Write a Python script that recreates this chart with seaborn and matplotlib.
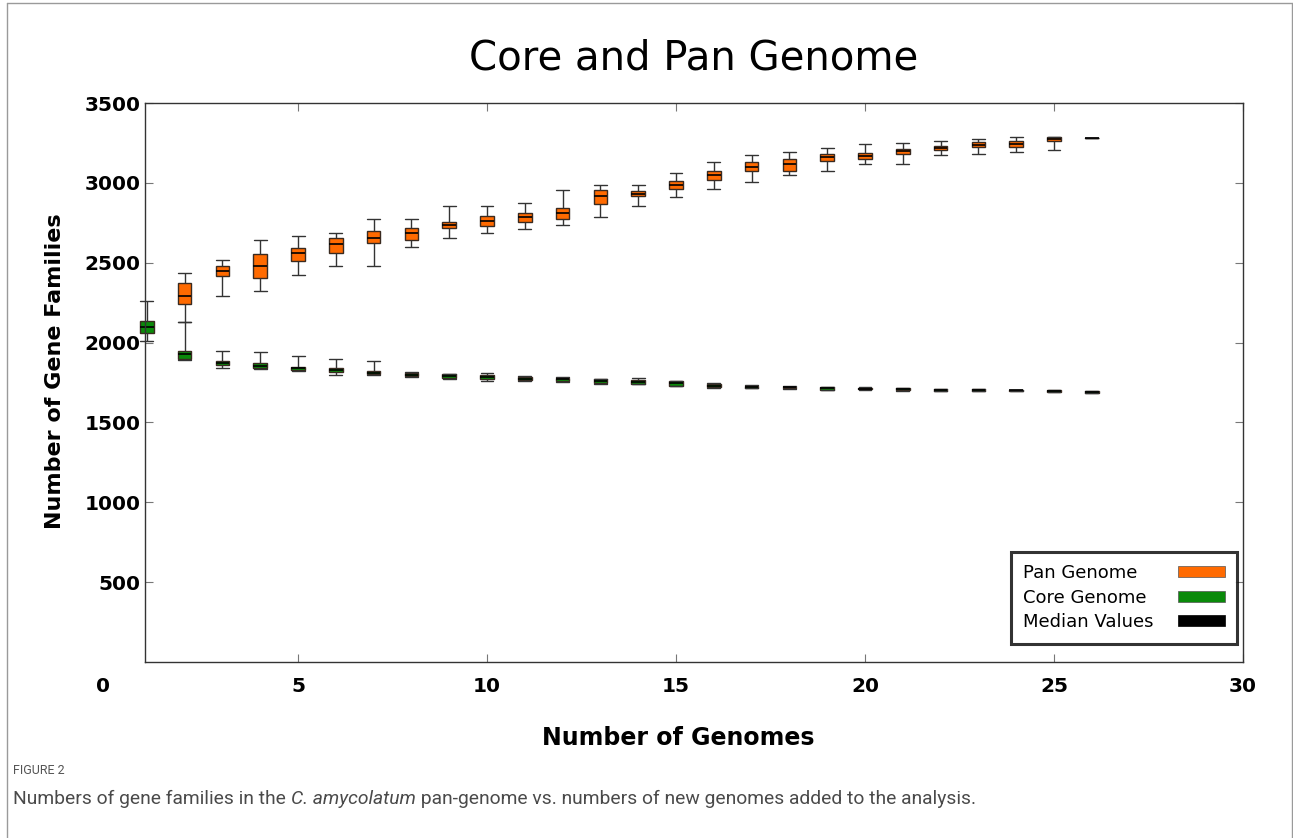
import numpy as np
import pandas as pd
import seaborn as sns
import matplotlib.pyplot as plt
from matplotlib.patches import Patch
from matplotlib.lines import Line2D

# ---------------- data (five-number summaries) ----------------
pan_genomes = list(range(2, 27))
pan_low = [2127, 2291, 2325, 2423, 2479, 2479, 2598, 2655, 2688, 2709, 2738, 2786, 2853,
           2909, 2961, 3005, 3051, 3072, 3118, 3116, 3172, 3181, 3193, 3204, 3283]
pan_q1 = [2243, 2419, 2404, 2511, 2563, 2621, 2642, 2717, 2730, 2757, 2774, 2867, 2918,
          2963, 3018, 3072, 3076, 3137, 3149, 3182, 3204, 3222, 3222, 3264, 3283]
pan_med = [2291, 2450, 2481, 2559, 2615, 2657, 2684, 2738, 2761, 2784, 2813, 2918, 2932,
           2988, 3049, 3101, 3118, 3160, 3170, 3197, 3218, 3239, 3243, 3276, 3283]
pan_q3 = [2371, 2481, 2556, 2594, 2653, 2700, 2719, 2757, 2792, 2809, 2845, 2955, 2947,
          3012, 3074, 3129, 3152, 3181, 3189, 3210, 3231, 3254, 3264, 3285, 3283]
pan_high = [2437, 2517, 2644, 2665, 2688, 2774, 2776, 2853, 2853, 2872, 2955, 2987, 2987,
            3064, 3129, 3176, 3193, 3218, 3241, 3249, 3264, 3274, 3285, 3290, 3283]

core_genomes = list(range(1, 27))
core_low = [2012, 1893, 1839, 1833, 1825, 1797, 1798, 1785, 1772, 1761, 1762, 1755, 1741,
            1738, 1727, 1718, 1715, 1712, 1703, 1705, 1699, 1697, 1694, 1694, 1691, 1685]
core_q1 = [2062, 1899, 1861, 1839, 1828, 1814, 1803, 1789, 1778, 1774, 1766, 1759, 1745,
           1741, 1730, 1720, 1717, 1714, 1705, 1707, 1701, 1699, 1696, 1695, 1692, 1686]
core_med = [2099, 1926, 1872, 1856, 1839, 1829, 1812, 1800, 1790, 1785, 1775, 1770, 1757,
            1752, 1744, 1731, 1724, 1719, 1713, 1712, 1707, 1705, 1702, 1700, 1697, 1690]
core_q3 = [2137, 1949, 1883, 1874, 1849, 1843, 1822, 1811, 1801, 1795, 1784, 1780, 1770,
           1766, 1757, 1742, 1730, 1724, 1722, 1717, 1714, 1711, 1708, 1705, 1703, 1695]
core_high = [2262, 2127, 1949, 1939, 1918, 1895, 1885, 1815, 1805, 1809, 1790, 1784, 1773,
             1776, 1760, 1744, 1732, 1726, 1724, 1719, 1715, 1712, 1709, 1706, 1704, 1696]

x_ticks = [5, 10, 15, 20, 25, 30]
y_ticks = [500, 1000, 1500, 2000, 2500, 3000, 3500]
legend_labels = ["Pan Genome", "Core Genome", "Median Values"]

PAN_COLOR = "#FF6A00"
CORE_COLOR = "#0A8A0A"
EDGE = "#3a2a20"


def long_frame(xs, *stats):
    rows = []
    for i, x in enumerate(xs):
        for s in stats:
            rows.append((x, s[i]))
    return pd.DataFrame(rows, columns=["genomes", "families"])


pan_df = long_frame(pan_genomes, pan_low, pan_q1, pan_med, pan_q3, pan_high)
core_df = long_frame(core_genomes, core_low, core_q1, core_med, core_q3, core_high)

# ---------------- style ----------------
sns.set_theme(style="ticks")
plt.rcParams["font.family"] = ["DejaVu Sans"]
plt.rcParams["text.color"] = "black"
plt.rcParams["axes.labelcolor"] = "black"

W, H = 1293, 838
fig = plt.figure(figsize=(W / 100, H / 100), dpi=100)
fig.patch.set_facecolor("white")
ax = fig.add_axes([145 / W, 1 - 662 / H, 1098 / W, 559 / H])

common = dict(x="genomes", y="families", native_scale=True, orient="x", width=0.36,
              whis=np.inf, saturation=1, linewidth=1.0, linecolor=EDGE,
              medianprops=dict(color="black", linewidth=1.2),
              whiskerprops=dict(color="#333333", linewidth=1.0),
              capprops=dict(color="#333333", linewidth=1.0),
              capwidths=0.34, ax=ax)

sns.boxplot(data=pan_df, color=PAN_COLOR, **common)
sns.boxplot(data=core_df, color=CORE_COLOR, **common)

# let the first box poke over the left spine as in the original
for art in list(ax.patches) + list(ax.lines):
    art.set_clip_on(False)

ax.set_xlim(0.95, 30)
ax.set_ylim(0, 3500)
ax.set_xticks(x_ticks)
ax.set_yticks(y_ticks)
ax.set_xticklabels([str(t) for t in x_ticks])
ax.set_yticklabels([str(t) for t in y_ticks])
ax.set_xlabel("")
ax.set_ylabel("")

for side in ["left", "right", "top", "bottom"]:
    ax.spines[side].set_visible(True)
    ax.spines[side].set_color("#333333")
    ax.spines[side].set_linewidth(1.0)

ax.tick_params(axis="both", which="both", direction="in", length=6, width=0.8,
               color="#777777", top=True, right=True, labelsize=14.5,
               labelcolor="black")
ax.tick_params(axis="x", pad=11)
ax.tick_params(axis="y", pad=3)
for lab in ax.get_xticklabels() + ax.get_yticklabels():
    lab.set_fontweight("bold")

# the lone "0" label left of the axes
ax.text(-0.15, -15.3 / 559, "0", transform=ax.get_xaxis_transform(), ha="center",
        va="top", fontsize=14.5, fontweight="bold", clip_on=False, color="black")

# titles and axis labels
fig.text(693.5 / W, 1 - 58 / H, "Core and Pan Genome", ha="center", va="center",
         fontsize=29, color="black")
fig.text(55 / W, 1 - 371 / H, "Number of Gene Families", ha="center", va="center",
         rotation=90, fontsize=16, fontweight="bold", color="black")
fig.text(678 / W, 1 - 738 / H, "Number of Genomes", ha="center", va="center",
         fontsize=17, fontweight="bold", color="black")

# legend (labels left, colour bars right)
handles = [Patch(facecolor=PAN_COLOR, edgecolor="#555555", linewidth=0.5),
           Patch(facecolor=CORE_COLOR, edgecolor="#555555", linewidth=0.5),
           Patch(facecolor="black", edgecolor="black", linewidth=0.5)]
leg = ax.legend(handles, legend_labels, loc="lower right", bbox_to_anchor=(0.9945, 0.033),
                borderaxespad=0, markerfirst=False, fontsize=13, handlelength=2.6,
                handleheight=0.55, labelspacing=0.36, borderpad=0.68, handletextpad=1.35,
                frameon=True, fancybox=False, edgecolor="black")
leg.get_frame().set_linewidth(2.2)
for t in leg.get_texts():
    t.set_color("black")

fig.canvas.draw()
renderer = fig.canvas.get_renderer()
widths = [t.get_window_extent(renderer).width * 72 / fig.dpi for t in leg.get_texts()]
column = leg._legend_handle_box.get_children()[0]
column.align = "left"
for row, w in zip(column.get_children(), widths):
    row.sep = row.sep + (max(widths) - w)

# page frame lines
for xs, ys in [([7 / W, 7 / W], [0, 1 - 3 / H]),
               ([7 / W, 1292 / W], [1 - 3 / H, 1 - 3 / H]),
               ([1292 / W, 1292 / W], [0, 1 - 3 / H])]:
    fig.add_artist(Line2D(xs, ys, transform=fig.transFigure, color="#9a9a9a", lw=1))

# caption
fig.text(13 / W, 1 - 770 / H, "FIGURE 2", ha="left", va="center", fontsize=9,
         color="#555555", family="Roboto")
cap_kw = dict(fontsize=13.9, color="#4a4a4a", family="Roboto")
t1 = fig.text(13 / W, 1 - 808 / H, "Numbers of gene families in the ", ha="left",
              va="bottom", **cap_kw)
t2 = ax.annotate("C. amycolatum", xy=(1, 0), xycoords=t1, ha="left", va="bottom",
                 style="italic", annotation_clip=False, **cap_kw)
t3 = ax.annotate(" pan-genome vs. numbers of new genomes added to the analysis.",
                 xy=(1, 0), xycoords=t2, ha="left", va="bottom",
                 annotation_clip=False, **cap_kw)

fig.savefig("out.png", dpi=100, facecolor="white")
